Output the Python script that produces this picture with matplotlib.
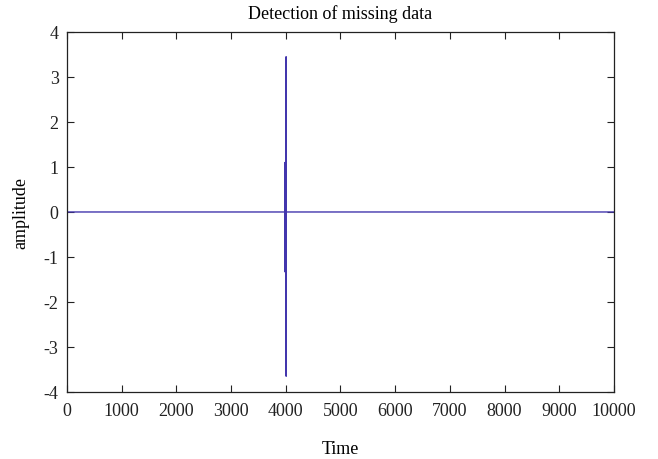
import numpy as np
import matplotlib.pyplot as plt

plt.rcParams['font.family'] = ['Liberation Serif', 'DejaVu Serif']
plt.rcParams['axes.unicode_minus'] = False

# signal is zero except around the detected gap near t = 4000
n_samples = 10001
spike_times = [3984, 3985, 3986, 3987, 3988, 3989, 3990, 3991, 3992, 3993,
               3994, 3995, 3996, 3997, 3998, 3999, 4000, 4006, 4007]
spike_values = [1.10, -1.33, 1.08, -1.32, 1.07, -1.31, 1.06, -1.30, 1.05, -1.30,
                1.05, -1.29, 1.04, -1.28, 1.03, -1.27, 0.0, 3.45, -3.65]

t = np.arange(n_samples)
amp = np.zeros(n_samples)
amp[spike_times] = spike_values

fig = plt.figure(figsize=(6.58, 4.60), dpi=100)
ax = fig.add_axes([0.1018, 0.1457, 0.8313, 0.7826])

ax.plot(t, amp, color='#4336ad', linewidth=1.0)

ax.set_xlim(0, 10000)
ax.set_ylim(-4, 4)
ax.set_xticks(np.arange(0, 10001, 1000))
ax.set_yticks(np.arange(-4, 5, 1))
ax.tick_params(direction='in', length=5, width=0.8, top=True, right=True,
               labelsize=13, pad=6, colors='#222222')
ax.tick_params(axis='x', pad=7)
for s in ax.spines.values():
    s.set_linewidth(0.9)
    s.set_color('#222222')

ax.set_title('Detection of missing data', fontsize=13, pad=10)
ax.set_xlabel('Time', fontsize=13, labelpad=15)
ax.set_ylabel('amplitude', fontsize=13, labelpad=10)

fig.savefig('out.png', dpi=100)
